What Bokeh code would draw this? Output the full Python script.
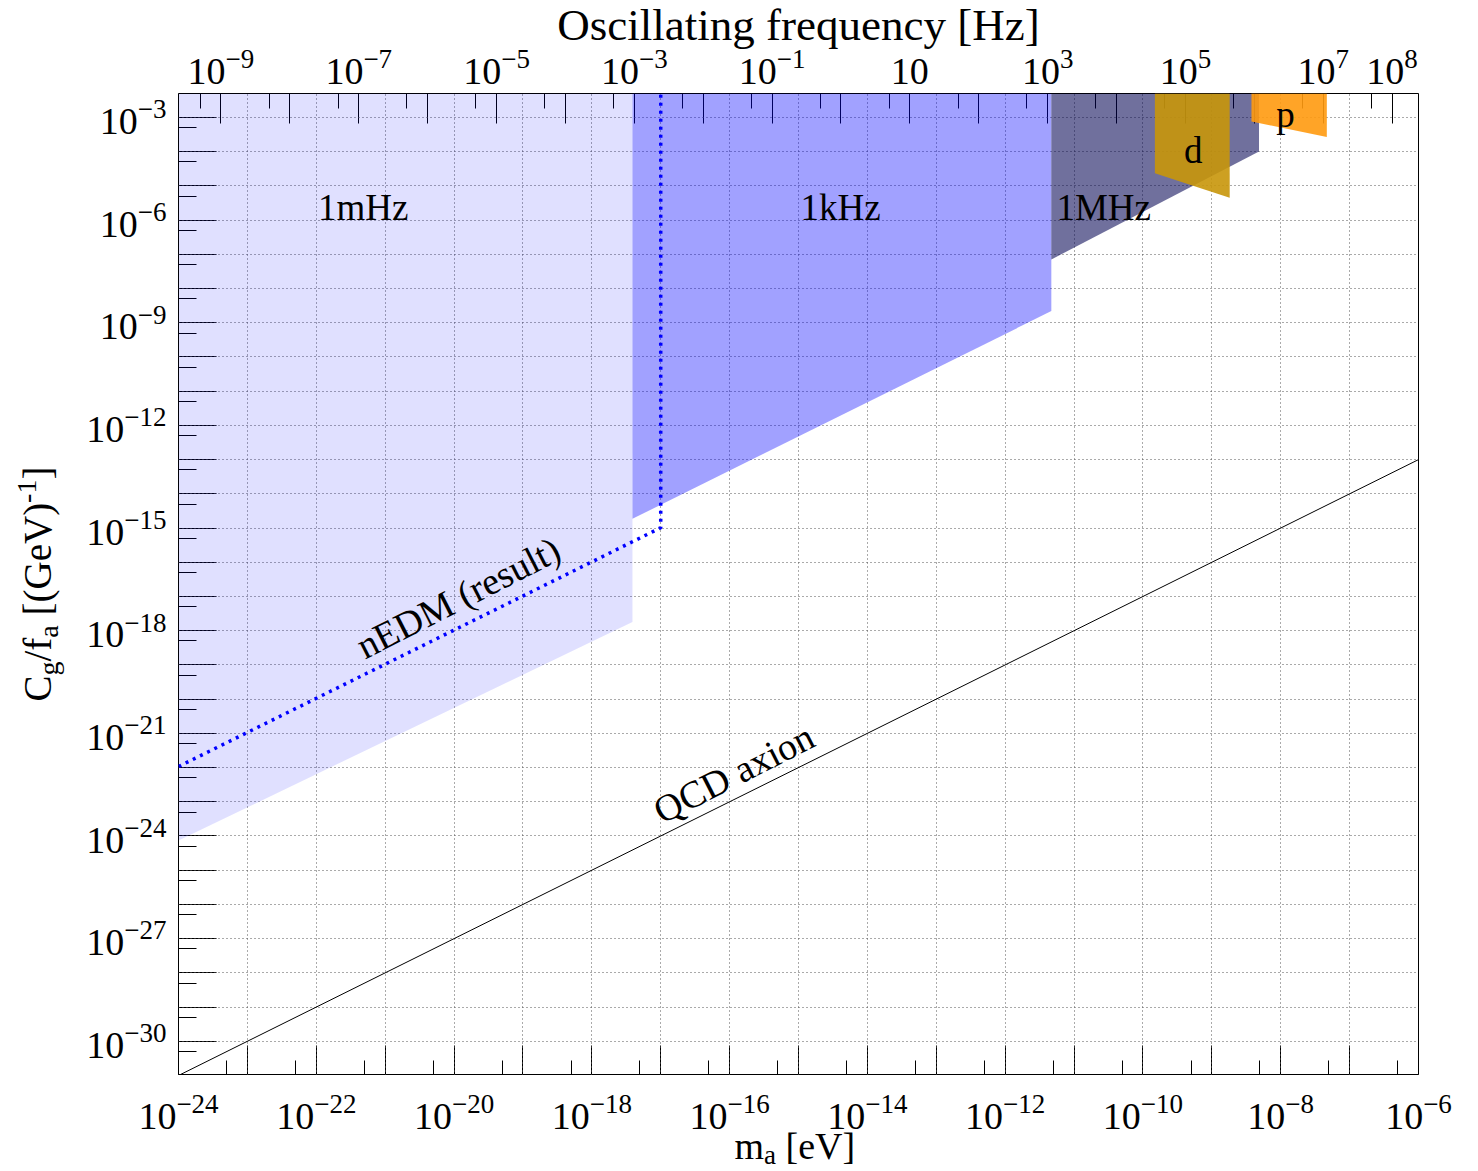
import math

from bokeh.plotting import figure
from bokeh.layouts import column, row
from bokeh.models import LogAxis, LogScale, Range1d, FixedTicker, Label, ColumnDataSource
from bokeh.core.properties import value
from bokeh.embed import file_html
from bokeh.resources import INLINE

# 1 eV of axion mass corresponds to this oscillation frequency (Hz)
HZ_PER_EV = 2.418e14

# axis extents
mass_range = (1e-24, 1e-6)            # m_a [eV]
coupling_range = (1e-31, 10 ** -2.3)  # C_g/f_a [GeV^-1]

# sensitivity bands of the three measurement set-ups
band_labels = ["1mHz", "1kHz", "1MHz"]
band_mass_low = [1e-24, 3.89e-18, 4.68e-12]
band_mass_high = [3.89e-18, 4.68e-12, 4.84e-9]
band_floor_low = [7.41e-25, 1.86e-15, 7.08e-8]
band_floor_high = [1.78e-18, 2.19e-9, 1.01e-4]
band_colors = ["#0000ff", "#0000ff", "#000050"]
band_alpha = [0.12, 0.37, 0.56]

# deuteron and proton regions
nucleus_labels = ["d", "p"]
nucleus_mass_low = [1.49e-10, 3.76e-9]
nucleus_mass_high = [1.815e-9, 4.67e-8]
nucleus_floor_low = [2.35e-5, 7.62e-4]
nucleus_floor_high = [4.49e-6, 2.69e-4]
nucleus_colors = ["#c8960a", "#ff9a10"]

# nEDM result (exclusion boundary)
nedm_mass = [1e-24, 1e-17, 1e-17]
nedm_coupling = [1.07e-22, 1.02e-15, coupling_range[1]]

# QCD axion line
qcd_mass = [1e-24, 1e-6]
qcd_coupling = [1e-31, 1e-13]

# ticks (exponents of ten)
mass_exp = list(range(-24, -5))
mass_minor = [5 * 10.0 ** k for k in range(-25, -6)]
mass_labelled = [k for k in mass_exp if k % 2 == 0]
coupling_exp = list(range(-31, -2))
coupling_minor = [5 * 10.0 ** k for k in range(-32, -3)]
coupling_labelled = [k for k in coupling_exp if k % 3 == 0]
freq_exp = list(range(-9, 9))
freq_minor = [5 * 10.0 ** k for k in range(-10, 8)]
freq_labelled = [-9, -7, -5, -3, -1, 1, 3, 5, 7, 8]

SERIF = "Liberation Serif"

# page geometry
W, H = 1478, 1171
FRAME_L, FRAME_T, FRAME_W, FRAME_H = 178, 93, 1240, 982
RIGHT = W - FRAME_L - FRAME_W
BOTTOM = H - FRAME_T - FRAME_H

LOG_X0, LOG_X1 = math.log10(mass_range[0]), math.log10(mass_range[1])
LOG_Y0, LOG_Y1 = math.log10(coupling_range[0]), math.log10(coupling_range[1])
DEC_PX_X = (LOG_X1 - LOG_X0) / FRAME_W
DEC_PX_Y = (LOG_Y1 - LOG_Y0) / FRAME_H
# log-mass span of the full page width (for the strips above and below)
FULL_X0 = LOG_X0 - FRAME_L * DEC_PX_X
FULL_X1 = LOG_X1 + RIGHT * DEC_PX_X

# glyph advances (fraction of the em) for the serif face
ADV = {"C": .667, "g": .5, "/": .278, "f": .333, "a": .444, " ": .25, "[": .333,
       "(": .333, "G": .722, "e": .444, "V": .722, ")": .333, "-": .333, "1": .5,
       "]": .333, "m": .778, "−": .564, "0": .5, "2": .5, "3": .5, "4": .5,
       "5": .5, "6": .5, "7": .5, "8": .5, "9": .5}
MID = 0.34  # distance from baseline to the middle of the text box, in em


def adv(s, size):
    return sum(ADV[c] for c in s) * size


def exp_text(k):
    return "" if k == 1 else str(k).replace("-", "−")


TICK_MAIN, TICK_SUP = 38, 27

# ---------------------------------------------------------------- main plot
p = figure(
    width=FRAME_W + RIGHT, height=FRAME_H, title=None,
    x_axis_type="log", y_axis_type="log",
    x_range=Range1d(*mass_range), y_range=Range1d(*coupling_range),
    output_backend="svg", toolbar_location=None,
    min_border_left=0, min_border_right=RIGHT, min_border_top=0, min_border_bottom=0,
)
p.background_fill_color = "white"
p.border_fill_color = "white"
p.outline_line_color = "black"

p.extra_x_ranges = {"freq": Range1d(mass_range[0] * HZ_PER_EV, mass_range[1] * HZ_PER_EV)}
p.extra_x_scales = {"freq": LogScale()}

x_ticker = FixedTicker(ticks=[10.0 ** k for k in mass_exp], minor_ticks=mass_minor)
y_ticker = FixedTicker(ticks=[10.0 ** k for k in coupling_exp], minor_ticks=coupling_minor)
f_ticker = FixedTicker(ticks=[10.0 ** k for k in freq_exp], minor_ticks=freq_minor)

top_axis = LogAxis(x_range_name="freq", ticker=f_ticker)
p.add_layout(top_axis, "above")
xa = p.below[0]
ya = p.left[0]
xa.ticker = x_ticker
ya.ticker = y_ticker

# tick marks point inwards and sit beneath the shaded regions;
# the numbers are set in the strips around the plot
for ax, tk_exp, major_len, minor_len in ((xa, mass_exp, 30, 15), (ya, coupling_exp, 38, 18),
                                          (top_axis, freq_exp, 30, 15)):
    ax.level = "underlay"
    ax.axis_line_color = "black"
    ax.major_tick_line_color = "black"
    ax.minor_tick_line_color = "black"
    ax.major_tick_in = major_len
    ax.major_tick_out = 0
    ax.minor_tick_in = minor_len
    ax.minor_tick_out = 0
    ax.major_label_standoff = 0
    ax.major_label_text_font_size = "1px"
    ax.major_label_text_alpha = 0
    ax.major_label_overrides = {10.0 ** k: "" for k in tk_exp}

for g, tk in ((p.xgrid, x_ticker), (p.ygrid, y_ticker)):
    g.ticker = tk
    g.grid_line_color = "#555555"
    g.grid_line_dash = "1 3"
    g.grid_line_width = 1

top_val = coupling_range[1]

band_xs = [[lo, hi, hi, lo] for lo, hi in zip(band_mass_low, band_mass_high)]
band_ys = [[fl, fh, top_val, top_val] for fl, fh in zip(band_floor_low, band_floor_high)]
p.patches(band_xs, band_ys, fill_color=band_colors, fill_alpha=band_alpha, line_color=None)

p.line(nedm_mass, nedm_coupling, line_color="#0000ff", line_width=3.5, line_dash="3 5")

nuc_xs = [[lo, hi, hi, lo] for lo, hi in zip(nucleus_mass_low, nucleus_mass_high)]
nuc_ys = [[fl, fh, top_val, top_val] for fl, fh in zip(nucleus_floor_low, nucleus_floor_high)]
p.patches(nuc_xs, nuc_ys, fill_color=nucleus_colors, fill_alpha=0.9, line_color=None)

p.line(qcd_mass, qcd_coupling, line_color="black", line_width=1)


def add_label(text, x, y, size="37px", angle=0.0):
    p.add_layout(Label(x=x, y=y, text=text, angle=angle, text_align="center",
                       text_baseline="middle", text_font=SERIF,
                       text_font_size=size, text_color="black"))


add_label(band_labels[0], 10 ** -21.32, 10 ** -5.63)
add_label(band_labels[1], 10 ** -14.39, 10 ** -5.63)
add_label(band_labels[2], 10 ** -10.57, 10 ** -5.63)
add_label(nucleus_labels[0], 10 ** -9.27, 10 ** -3.98)
add_label(nucleus_labels[1], 10 ** -7.93, 10 ** -2.92)

tilt = math.radians(27)
add_label("nEDM (result)", 10 ** -19.94, 10 ** -17.03, size="38px", angle=tilt)
add_label("QCD axion", 10 ** -15.94, 10 ** -22.17, size="38px", angle=tilt)


# ---------------------------------------------------------------- strips
def strip(w, h, **kw):
    f = figure(width=w, height=h, title=None, x_axis_location=None, y_axis_location=None,
               output_backend="svg", toolbar_location=None,
               min_border_left=0, min_border_right=0, min_border_top=0, min_border_bottom=0, **kw)
    f.grid.visible = False
    f.outline_line_color = None
    f.background_fill_color = "white"
    f.border_fill_color = "white"
    return f


def draw_text(f, x, y, text, size, align="left", angle=0.0, x_offset=0, y_offset=0):
    xo = x_offset if isinstance(x_offset, list) else [x_offset] * len(x)
    src = ColumnDataSource(dict(x=x, y=y, text=text, xo=xo))
    f.text(x="x", y="y", text="text", source=src, angle=angle, text_align=align,
           text_baseline="middle", x_offset="xo", y_offset=y_offset,
           text_font=value(SERIF), text_font_size=value(f"{size}px"), text_color="black")


def horizontal_tick_labels(f, exps, base_y, sup_y):
    # base_y / sup_y: baselines measured upward from the strip's bottom edge
    vals = [10.0 ** k for k in exps]
    sups = [exp_text(k) for k in exps]
    totals = [TICK_MAIN + adv(s, TICK_SUP) for s in sups]
    draw_text(f, vals, [base_y + MID * TICK_MAIN] * len(vals), ["10"] * len(vals), TICK_MAIN,
              x_offset=[-t / 2 for t in totals])
    draw_text(f, vals, [sup_y + MID * TICK_SUP] * len(vals), sups, TICK_SUP,
              x_offset=[-t / 2 + TICK_MAIN for t in totals])


# top strip: frequency numbers and title
top = strip(W, FRAME_T, x_axis_type="log",
            x_range=Range1d(10 ** FULL_X0 * HZ_PER_EV, 10 ** FULL_X1 * HZ_PER_EV),
            y_range=Range1d(0, FRAME_T))
horizontal_tick_labels(top, freq_labelled, FRAME_T - 84, FRAME_T - 68)
draw_text(top, [math.sqrt(mass_range[0] * mass_range[1]) * HZ_PER_EV],
          [FRAME_T - 40 + MID * 45], ["Oscillating frequency [Hz]"], 45, align="center")

# bottom strip: mass numbers and title m_a [eV]
bottom = strip(W, BOTTOM, x_axis_type="log",
               x_range=Range1d(10 ** FULL_X0, 10 ** FULL_X1), y_range=Range1d(0, BOTTOM))
horizontal_tick_labels(bottom, mass_labelled, H - 1129, H - 1113)


def mass_at(px):
    return 10 ** (FULL_X0 + px * DEC_PX_X)


cursor = 734
for text, kind in (("m", 0), ("a", -1), ("[eV]", 0)):
    size = 38 if kind == 0 else 27
    if text.startswith("["):
        cursor += adv(" ", 38)
    base = H - 1158 - (6 if kind < 0 else 0)
    draw_text(bottom, [mass_at(cursor)], [base + MID * size], [text], size)
    cursor += adv(text, size)

# left strip: coupling numbers and vertical title
left = strip(FRAME_L, FRAME_H, y_axis_type="log",
             x_range=Range1d(0, FRAME_L), y_range=Range1d(*coupling_range))
lvals = [10.0 ** k for k in coupling_labelled]
lsups = [exp_text(k) for k in coupling_labelled]
draw_text(left, [166 - adv(s, TICK_SUP) for s in lsups], lvals, ["10"] * len(lvals),
          TICK_MAIN, align="right", y_offset=17 - MID * TICK_MAIN)
draw_text(left, [166] * len(lvals), lvals, lsups, TICK_SUP, align="right",
          y_offset=1 - MID * TICK_SUP)


def coupling_at(py):
    return 10 ** (LOG_Y1 - (py - FRAME_T) * DEC_PX_Y)


cursor = 701
for text, kind in (("C", 0), ("g", -1), ("/f", 0), ("a", -1), ("[(GeV)", 0), ("-1", 1), ("]", 0)):
    size = 39 if kind == 0 else 28
    if text.startswith("["):
        cursor -= adv(" ", 39)
    base = 50 + (8 if kind < 0 else (-14 if kind > 0 else 0))
    draw_text(left, [base - MID * size], [coupling_at(cursor)], [text], size, angle=math.pi / 2)
    cursor -= adv(text, size)

page = column(top, row(left, p, spacing=0), bottom, spacing=0)

open("out.html", "w").write(file_html(page, INLINE))
